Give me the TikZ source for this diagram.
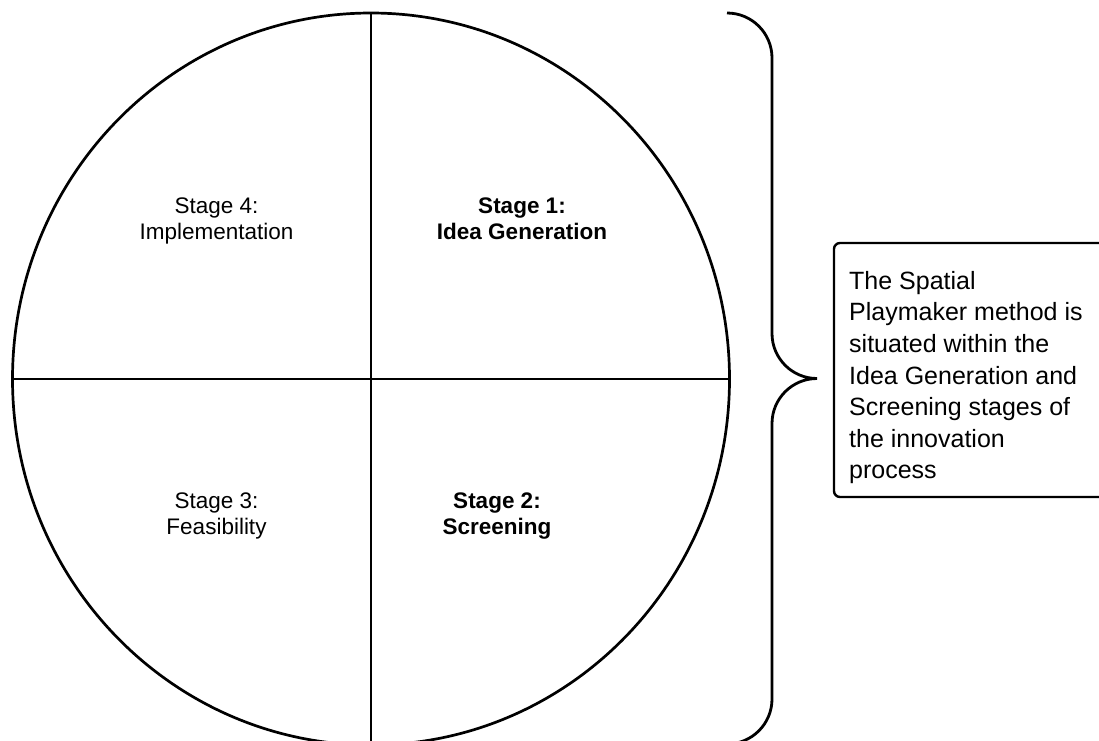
\documentclass[tikz,border=0pt]{standalone}
\usepackage{fontspec}
\setmainfont{Liberation Sans}
\begin{document}
\begin{tikzpicture}[x=1pt,y=-1pt,
  stagelabel/.style={inner sep=0pt,align=center,anchor=north,
    font=\fontsize{22.5}{26}\selectfont},
  notebox/.style={draw,line width=2.4pt,rounded corners=6pt},
  notetext/.style={inner sep=0pt,align=left,anchor=north west,
    font=\fontsize{25}{31.6}\selectfont}]
  \useasboundingbox (0,0) rectangle (1099,740);
  \clip (0,0) rectangle (1099,740);

  % process circle split into four quadrants
  \coordinate (c) at (371,379);
  \draw[line width=2.7pt] (c) ellipse [x radius=358.5, y radius=366];
  \draw[line width=2pt] (371,13) -- (371,745);
  \draw[line width=2pt] (12.5,379) -- (729.5,379);

  \node[stagelabel] (s4) at (216.5,197.6) {Stage 4:\\Implementation};
  \node[stagelabel,font=\fontsize{22.5}{26}\selectfont\bfseries] (s1) at (522,197.6) {Stage 1:\\Idea Generation};
  \node[stagelabel] (s3) at (216.5,492.6) {Stage 3:\\Feasibility};
  \node[stagelabel,font=\fontsize{22.5}{26}\selectfont\bfseries] (s2) at (497,492.6) {Stage 2:\\Screening};

  % curly brace grouping the whole cycle (y axis points down)
  \draw[line width=2.8pt]
    (727,13) arc[start angle=-90, end angle=0, radius=45]
    -- (772,333.5) arc[start angle=180, end angle=90, radius=45]
    coordinate (tip)
    arc[start angle=270, end angle=180, radius=45]
    -- (772,699) arc[start angle=0, end angle=90, radius=45];

  % explanatory note
  \draw[notebox] (834,243) rectangle (1115,497);
  \node[notetext] (note) at (849,271)
    {The Spatial\\Playmaker method is\\situated within the\\Idea Generation and\\Screening stages of\\the innovation\\process};
\end{tikzpicture}
\end{document}
